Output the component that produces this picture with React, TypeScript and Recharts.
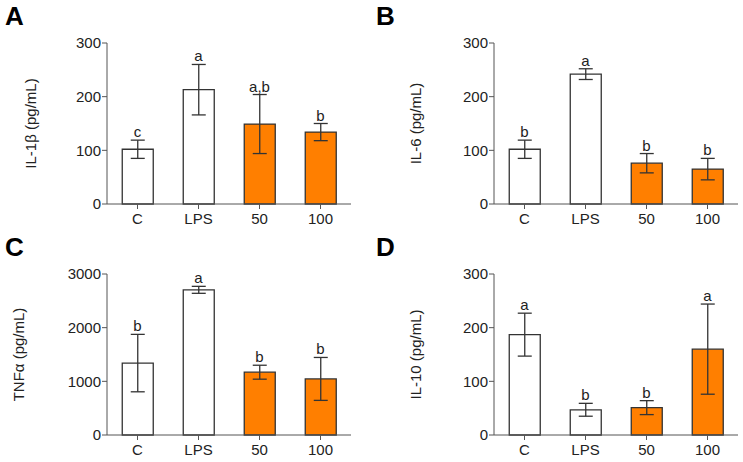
import { ComposedChart, Bar, Line, Cell, XAxis, YAxis, ErrorBar, LabelList } from 'recharts'

const groups = ['C', 'LPS', '50', '100']
const barColors = ['#FFFFFF', '#FFFFFF', '#FF7F00', '#FF7F00']

const il1bMean = [102, 213, 149, 134]
const il1bErr = [17, 47, 55, 16]
const il1bLetters = ['c', 'a', 'a,b', 'b']

const il6Mean = [102, 242, 76, 65]
const il6Err = [17, 10, 18, 20]
const il6Letters = ['b', 'a', 'b', 'b']

const tnfMean = [1340, 2705, 1170, 1045]
const tnfErr = [535, 65, 130, 400]
const tnfLetters = ['b', 'a', 'b', 'b']

const il10Mean = [187, 47, 51, 160]
const il10Err = [40, 12, 13, 84]
const il10Letters = ['a', 'b', 'b', 'a']

const ticks300 = [0, 100, 200, 300]
const ticks3000 = [0, 1000, 2000, 3000]

const FONT = 'Arial, "Liberation Sans", Helvetica, sans-serif'
const AXIS = '#555'
const TEXT = '#222'

const build = (mean: number[], err: number[], letters: string[]) =>
  groups.map((g, i) => ({ group: g, mean: mean[i], err: err[i], top: mean[i] + err[i], letter: letters[i] }))

interface PanelProps {
  letter: string
  yLabel: string
  data: ReturnType<typeof build>
  domain: [number, number]
  ticks: number[]
  left: number
  top: number
  width: number
  marginLeft: number
  marginRight: number
  labelX: number
}

function Panel({ letter, yLabel, data, domain, ticks, left, top, width, marginLeft, marginRight, labelX }: PanelProps) {
  return (
    <div style={{ position: 'absolute', left, top, width, height: 231 }}>
      <div
        style={{
          position: 'absolute', left: 5, top: 3, fontFamily: FONT, fontWeight: 'bold',
          fontSize: 26, lineHeight: '26px', color: '#000',
        }}
      >
        {letter}
      </div>
      <ComposedChart
        width={width}
        height={231}
        data={data}
        margin={{ top: 43, right: marginRight, bottom: 5, left: marginLeft }}
        barCategoryGap="25%"
      >
        <XAxis
          dataKey="group"
          height={22}
          stroke={AXIS}
          tickSize={5}
          tickMargin={4}
          tick={{ fontSize: 15, fill: TEXT, fontFamily: FONT }}
        />
        <YAxis
          width={60}
          domain={domain}
          ticks={ticks}
          stroke={AXIS}
          tickSize={5}
          tickMargin={1}
          tick={{ fontSize: 15, fill: TEXT, fontFamily: FONT }}
          label={{
            content: ({ viewBox }: any) => {
              const cy = viewBox.y + viewBox.height / 2
              return (
                <text
                  x={labelX}
                  y={cy}
                  transform={`rotate(-90 ${labelX} ${cy})`}
                  textAnchor="middle"
                  dominantBaseline="central"
                  fontSize={15}
                  fill={TEXT}
                  fontFamily={FONT}
                >
                  {yLabel}
                </text>
              )
            },
          }}
        />
        <Bar dataKey="mean" stroke="#333" strokeWidth={1.3} isAnimationActive={false}>
          {data.map((d, i) => (
            <Cell key={d.group} fill={barColors[i]} />
          ))}
          <ErrorBar dataKey="err" width={7} stroke="#333" strokeWidth={1.3} />
        </Bar>
        <Line dataKey="top" stroke="none" dot={false} activeDot={false} legendType="none" isAnimationActive={false}>
          <LabelList dataKey="letter" position="top" offset={3} style={{ fontSize: 15, fill: TEXT, fontFamily: FONT }} />
        </Line>
      </ComposedChart>
    </div>
  )
}

export default function App() {
  return (
    <div style={{ position: 'absolute', left: 0, top: 0, width: 743, height: 462, background: '#fff' }}>
      <Panel letter="A" yLabel="IL-1β (pg/mL)" data={build(il1bMean, il1bErr, il1bLetters)} domain={[0, 300]} ticks={ticks300}
        left={0} top={0} width={371} marginLeft={47} marginRight={20} labelX={30} />
      <Panel letter="B" yLabel="IL-6 (pg/mL)" data={build(il6Mean, il6Err, il6Letters)} domain={[0, 300]} ticks={ticks300}
        left={371} top={0} width={372} marginLeft={63} marginRight={5} labelX={44} />
      <Panel letter="C" yLabel="TNFα (pg/mL)" data={build(tnfMean, tnfErr, tnfLetters)} domain={[0, 3000]} ticks={ticks3000}
        left={0} top={231} width={371} marginLeft={47} marginRight={20} labelX={18} />
      <Panel letter="D" yLabel="IL-10 (pg/mL)" data={build(il10Mean, il10Err, il10Letters)} domain={[0, 300]} ticks={ticks300}
        left={371} top={231} width={372} marginLeft={63} marginRight={5} labelX={44} />
    </div>
  )
}
